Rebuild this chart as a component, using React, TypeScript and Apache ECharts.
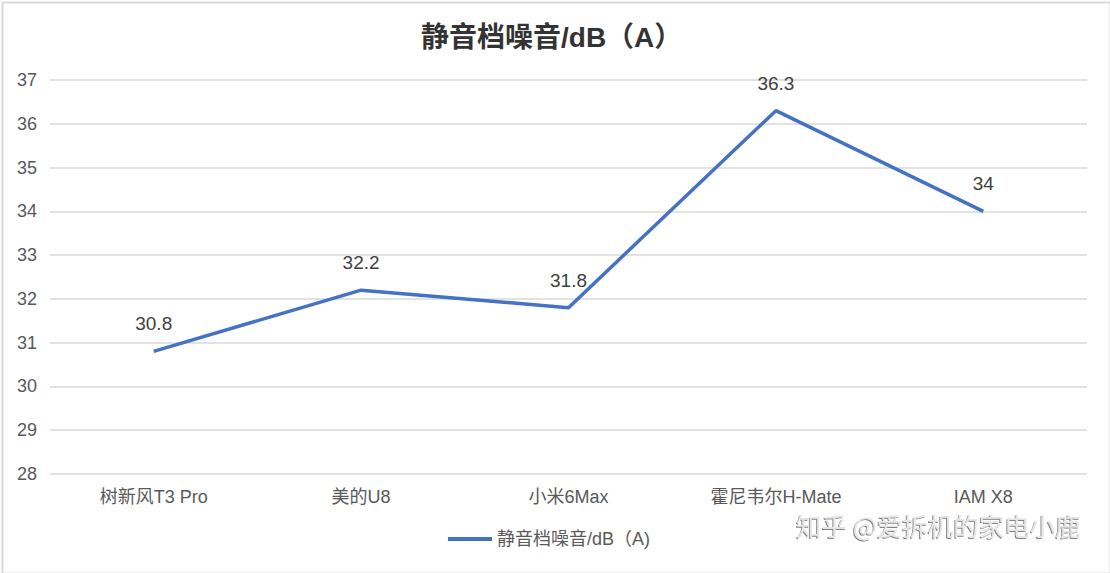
import React, { useEffect, useRef } from "react";
import * as echarts from "echarts";

const categories = ["树新风T3 Pro", "美的U8", "小米6Max", "霍尼韦尔H-Mate", "IAM X8"];
const values = [30.8, 32.2, 31.8, 36.3, 34];
const seriesName = "静音档噪音/dB（A)";
const titleText = "静音档噪音/dB（A）";
const watermark = "知乎 @爱拆机的家电小鹿";

const FONT = "'Liberation Sans', 'Noto Sans CJK SC', sans-serif";

export default function App() {
  const ref = useRef<HTMLDivElement>(null);
  useEffect(() => {
    document.body.style.margin = "0";
    const chart = echarts.init(ref.current!, null, { renderer: "svg" });
    chart.setOption({
      animation: false,
      backgroundColor: "#ffffff",
      textStyle: { fontFamily: FONT },
      title: {
        text: titleText,
        left: 416,
        top: 18,
        textStyle: { fontSize: 28, fontWeight: "bold", color: "#333333", fontFamily: FONT },
      },
      grid: { left: 50, right: 23, top: 80, bottom: 99, containLabel: false },
      legend: {
        bottom: 20,
        left: 443,
        itemWidth: 44,
        itemHeight: 4,
        itemGap: 6,
        icon: "rect",
        textStyle: { fontSize: 18, color: "#595959", fontFamily: FONT },
        data: [seriesName],
      },
      xAxis: {
        type: "category",
        data: categories,
        boundaryGap: true,
        axisLine: { show: false },
        axisTick: { show: false },
        axisLabel: { fontSize: 18, color: "#595959", margin: 14, fontFamily: FONT },
      },
      yAxis: {
        type: "value",
        min: 28,
        max: 37,
        interval: 1,
        axisLine: { show: false },
        axisTick: { show: false },
        axisLabel: { fontSize: 18, color: "#595959", margin: 13, fontFamily: FONT },
        splitLine: { lineStyle: { color: "#d9d9d9", width: 1.5 } },
      },
      series: [
        {
          name: seriesName,
          type: "line",
          data: values,
          showSymbol: true,
          symbol: "circle",
          symbolSize: 0,
          lineStyle: { color: "#4472C4", width: 3.5 },
          itemStyle: { color: "#4472C4" },
          label: {
            show: true,
            position: "top",
            distance: 18,
            fontSize: 19,
            color: "#404040",
            fontFamily: FONT,
          },
        },
      ],
      graphic: [
        {
          type: "rect",
          left: 0,
          top: 0,
          shape: { x: 1, y: 1, width: 1108, height: 571 },
          style: { fill: "none", stroke: "#d9d9d9", lineWidth: 2 },
          silent: true,
        },
        {
          type: "text",
          left: 796,
          top: 512,
          style: {
            text: watermark,
            fontSize: 25.5,
            fill: "#e6e6e6",
            fontFamily: "'Noto Sans CJK SC', sans-serif",
            textShadowColor: "rgba(90,90,90,0.75)",
            textShadowOffsetX: -1,
            textShadowOffsetY: 1,
            textShadowBlur: 1.5,
          },
          silent: true,
        },
      ],
    });
    return () => chart.dispose();
  }, []);
  return <div ref={ref} style={{ width: 1110, height: 573 }} />;
}
